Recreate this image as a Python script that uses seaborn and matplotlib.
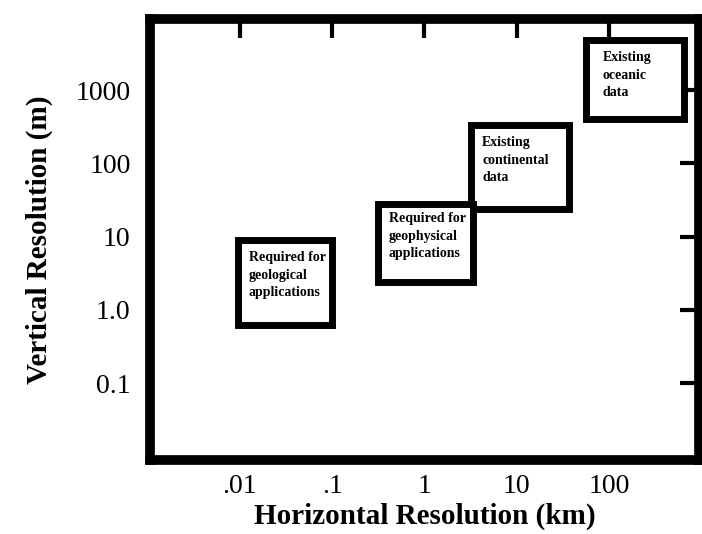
import numpy as np
import pandas as pd
import matplotlib.pyplot as plt
import seaborn as sns
from matplotlib.patches import Rectangle

# resolution boxes (horizontal km, vertical m)
box_labels = [
    "Existing\noceanic\ndata",
    "Existing\ncontinental\ndata",
    "Required for\ngeophysical\napplications",
    "Required for\ngeological\napplications",
]
h_min = [56, 3.2, 0.31, 0.0095]
h_max = [650, 37, 3.4, 0.10]
v_min = [400, 24, 2.4, 0.62]
v_max = [4800, 330, 28, 9.0]

x_ticks = [0.01, 0.1, 1, 10, 100]
x_tick_labels = [".01", ".1", "1", "10", "100"]
y_ticks = [0.1, 1, 10, 100, 1000]
y_tick_labels = ["0.1", "1.0", "10", "100", "1000"]

boxes = pd.DataFrame({"label": box_labels, "h_min": h_min, "h_max": h_max,
                      "v_min": v_min, "v_max": v_max})

sns.set_theme(style="white", rc={"text.color": "black",
                                 "axes.labelcolor": "black",
                                 "xtick.color": "black",
                                 "ytick.color": "black"})
plt.rcParams["font.family"] = ["Liberation Serif", "DejaVu Serif"]

fig = plt.figure(figsize=(7.02, 5.34), dpi=100)
ax = fig.add_axes([0.2137, 0.1386, 0.7820, 0.8258])
ax.set_xscale("log")
ax.set_yscale("log")
ax.set_xlim(0.00106, 946)
ax.set_ylim(0.0089, 9330)

text_pad = [(12, -8), (8, -8), (8, -6), (8, -8)]
for i, row in boxes.iterrows():
    rect = Rectangle((row.h_min, row.v_min), row.h_max - row.h_min,
                     row.v_max - row.v_min, facecolor="white",
                     edgecolor="black", linewidth=5, zorder=2 + i)
    ax.add_patch(rect)
    ax.annotate(row.label, xy=(row.h_min, row.v_max), xytext=text_pad[i],
                textcoords="offset points", ha="left", va="top",
                fontsize=10, fontweight="bold", linespacing=1.45,
                color="black", zorder=2 + i)

ax.set_xticks(x_ticks, x_tick_labels)
ax.set_yticks(y_ticks, y_tick_labels)
ax.minorticks_off()
ax.tick_params(axis="both", which="major", direction="in", length=14,
               width=3, color="black", labelcolor="black", labelsize=20,
               top=True, right=True)
ax.tick_params(axis="x", pad=10)
ax.tick_params(axis="y", pad=14)

for s in ax.spines.values():
    s.set_linewidth(7)
    s.set_color("black")
    s.set_zorder(10)

ax.set_xlabel("Horizontal Resolution (km)", fontsize=21, fontweight="bold",
              labelpad=3)
ax.set_ylabel("Vertical Resolution (m)", fontsize=21, fontweight="bold",
              labelpad=16)

fig.savefig("out.png", dpi=100)
